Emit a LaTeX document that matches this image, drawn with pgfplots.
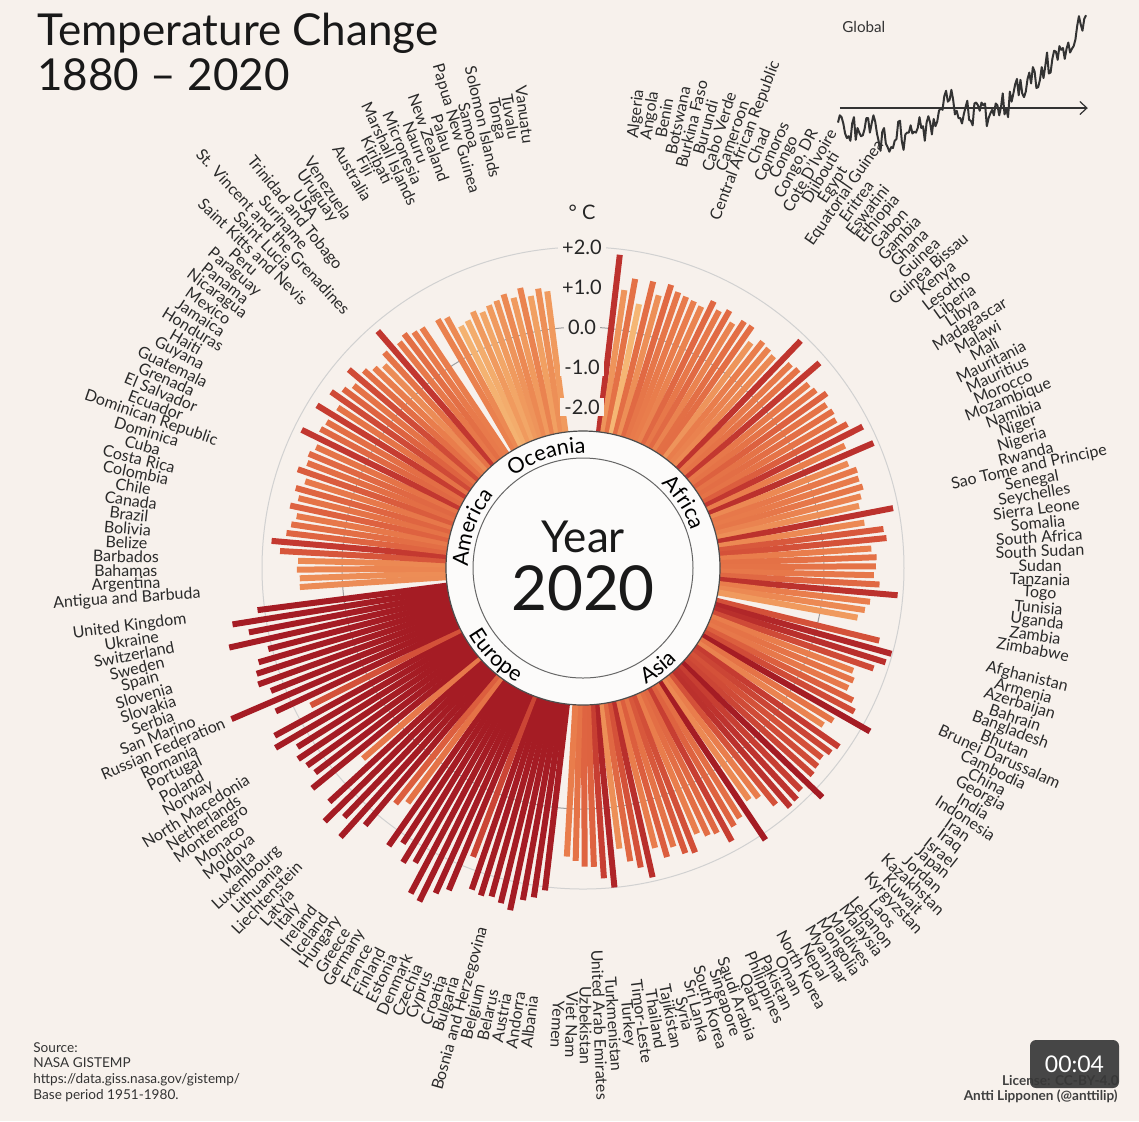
\documentclass[border=0pt]{standalone}
\usepackage{fontspec}
\setmainfont{Lato}
\usepackage{pgfplots}
\pgfplotsset{compat=1.18}
\usepackage{pgfplotstable}
\usepgfplotslibrary{polar}
\usetikzlibrary{decorations.text,arrows.meta}
\definecolor{bg}{RGB}{247,241,236}
\definecolor{labcol}{RGB}{42,42,42}
\definecolor{disk}{RGB}{252,251,250}
\newcommand\labfont{\fontsize{8.0}{8.5}\selectfont}
\newcommand\regfont{\fontsize{10.8}{12}\selectfont}

\pgfplotstableread[col sep=semicolon]{
name;p;t
Algeria;0;1.86
Angola;1;1.00
Benin;2;1.32
Botswana;3;0.72
Burkina Faso;4;1.35
Burundi;5;1.05
Cabo Verde;6;1.39
Cameroon;7;1.27
Central African Republic;8;1.23
Chad;9;1.20
Comoros;10;1.15
Congo;11;1.40
Congo, DR;12;1.25
Cote D'Ivoire;13;1.38
Djibouti;14;1.15
Egypt;15;1.34
Equatorial Guinea;16;1.35
Eritrea;17;1.00
Eswatini;18;1.20
Ethiopia;19;1.16
Gabon;20;1.10
Gambia;21;1.84
Ghana;22;1.25
Guinea;23;1.30
Guinea Bissau;24;1.80
Kenya;25;1.25
Lesotho;26;1.30
Liberia;27;1.47
Libya;28;1.30
Madagascar;29;1.35
Malawi;30;1.30
Mali;31;1.50
Mauritania;32;1.81
Mauritius;33;1.20
Morocco;34;1.88
Mozambique;35;1.10
Namibia;36;1.25
Niger;37;1.22
Nigeria;38;1.26
Rwanda;39;1.15
Sao Tome and Principe;40;1.05
Senegal;41;1.87
Seychelles;42;1.10
Sierra Leone;43;1.55
Somalia;44;1.60
South Africa;45;1.20
South Sudan;46;1.32
Sudan;47;1.30
Tanzania;48;1.25
Togo;49;1.40
Tunisia;50;1.87
Uganda;51;1.20
Zambia;52;1.10
Zimbabwe;53;0.95
Afghanistan;55;1.60
Armenia;56;1.98
Azerbaijan;57;1.90
Bahrain;58;1.66
Bangladesh;59;1.20
Bhutan;60;1.30
Brunei Darussalam;61;1.25
Cambodia;62;1.49
China;63;1.65
Georgia;64;2.23
India;65;1.30
Indonesia;66;1.15
Iran;67;1.78
Iraq;68;1.70
Israel;69;1.60
Japan;70;1.65
Jordan;71;1.70
Kazakhstan;72;2.26
Kuwait;73;1.75
Kyrgyzstan;74;1.85
Laos;75;1.88
Lebanon;76;1.60
Malaysia;77;1.20
Maldives;78;1.10
Mongolia;79;2.16
Myanmar;80;1.35
Nepal;81;1.45
North Korea;82;1.75
Oman;83;1.40
Pakistan;84;1.35
Philippines;85;1.20
Qatar;86;1.62
Saudi Arabia;87;1.55
Singapore;88;1.30
South Korea;89;1.50
Sri Lanka;90;1.20
Syria;91;1.90
Tajikistan;92;1.60
Thailand;93;1.40
Timor-Leste;94;1.05
Turkey;95;2.00
Turkmenistan;96;1.75
United Arab Emirates;97;1.45
Uzbekistan;98;1.44
Viet Nam;99;1.30
Yemen;100;1.20
Albania;102;2.09
Andorra;103;2.30
Austria;104;2.41
Belarus;105;2.72
Belgium;106;2.60
Bosnia and Herzegovina;107;2.50
Bulgaria;108;2.55
Croatia;109;2.48
Cyprus;110;1.70
Czechia;111;2.70
Denmark;112;2.90
Estonia;113;3.26
Finland;114;3.18
France;115;2.45
Germany;116;2.60
Greece;117;2.20
Hungary;118;2.45
Iceland;119;1.30
Ireland;120;1.50
Italy;121;2.40
Latvia;122;3.03
Liechtenstein;123;2.60
Lithuania;124;3.02
Luxembourg;125;2.60
Malta;126;1.25
Moldova;127;2.70
Monaco;128;2.40
Montenegro;129;2.46
Netherlands;130;2.55
North Macedonia;131;2.40
Norway;132;2.88
Poland;133;2.75
Portugal;134;1.60
Romania;135;2.45
Russian Federation;136;3.54
San Marino;137;2.36
Serbia;138;2.60
Slovakia;139;2.55
Slovenia;140;2.42
Spain;141;2.10
Sweden;142;3.04
Switzerland;143;2.48
Ukraine;144;2.85
United Kingdom;145;2.18
Antigua and Barbuda;147;1.07
Argentina;148;1.06
Bahamas;149;1.13
Barbados;150;1.10
Belize;151;1.56
Bolivia;152;1.79
Brazil;153;1.44
Canada;154;1.35
Chile;155;1.25
Colombia;156;1.46
Costa Rica;157;1.30
Cuba;158;1.43
Dominica;159;1.25
Dominican Republic;160;1.52
Ecuador;161;1.35
El Salvador;162;1.40
Grenada;163;1.30
Guatemala;164;1.81
Guyana;165;1.40
Haiti;166;1.35
Honduras;167;1.77
Jamaica;168;1.30
Mexico;169;1.66
Nicaragua;170;1.45
Panama;171;1.30
Paraguay;172;1.65
Peru;173;1.35
Saint Kitts and Nevis;174;1.20
Saint Lucia;175;1.07
St. Vincent and the Grenadines;176;1.30
Suriname;177;1.81
Trinidad and Tobago;178;1.25
USA;179;1.34
Uruguay;180;1.23
Venezuela;181;1.20
Australia;183;1.17
Fiji;184;1.10
Kiribati;185;0.75
Marshall Islands;186;0.80
Micronesia;187;0.95
Nauru;188;0.85
New Zealand;189;0.95
Palau;190;1.00
Papua New Guinea;191;1.10
Samoa;192;0.95
Solomon Islands;193;1.15
Tonga;194;0.90
Tuvalu;195;1.05
Vanuatu;196;0.95
}\countries

\pgfplotstableread{
yr v
1880 -0.16
1881 -0.08
1882 -0.10
1883 -0.17
1884 -0.28
1885 -0.33
1886 -0.31
1887 -0.36
1888 -0.17
1889 -0.10
1890 -0.35
1891 -0.22
1892 -0.27
1893 -0.31
1894 -0.30
1895 -0.23
1896 -0.11
1897 -0.11
1898 -0.27
1899 -0.17
1900 -0.08
1901 -0.15
1902 -0.28
1903 -0.37
1904 -0.47
1905 -0.26
1906 -0.22
1907 -0.39
1908 -0.43
1909 -0.48
1910 -0.43
1911 -0.44
1912 -0.36
1913 -0.34
1914 -0.15
1915 -0.14
1916 -0.36
1917 -0.46
1918 -0.29
1919 -0.27
1920 -0.27
1921 -0.19
1922 -0.28
1923 -0.26
1924 -0.27
1925 -0.22
1926 -0.10
1927 -0.22
1928 -0.20
1929 -0.36
1930 -0.16
1931 -0.09
1932 -0.16
1933 -0.29
1934 -0.12
1935 -0.20
1936 -0.15
1937 -0.03
1938 0.00
1939 -0.02
1940 0.13
1941 0.19
1942 0.07
1943 0.09
1944 0.20
1945 0.09
1946 -0.07
1947 -0.03
1948 -0.11
1949 -0.11
1950 -0.17
1951 -0.07
1952 0.01
1953 0.08
1954 -0.13
1955 -0.14
1956 -0.19
1957 0.05
1958 0.06
1959 0.03
1960 -0.03
1961 0.06
1962 0.03
1963 0.05
1964 -0.20
1965 -0.11
1966 -0.06
1967 -0.02
1968 -0.08
1969 0.05
1970 0.03
1971 -0.08
1972 0.01
1973 0.16
1974 -0.07
1975 -0.01
1976 -0.10
1977 0.18
1978 0.07
1979 0.16
1980 0.26
1981 0.32
1982 0.14
1983 0.31
1984 0.16
1985 0.12
1986 0.18
1987 0.32
1988 0.39
1989 0.27
1990 0.45
1991 0.40
1992 0.22
1993 0.23
1994 0.31
1995 0.45
1996 0.33
1997 0.46
1998 0.61
1999 0.38
2000 0.39
2001 0.54
2002 0.63
2003 0.62
2004 0.53
2005 0.68
2006 0.64
2007 0.66
2008 0.54
2009 0.65
2010 0.72
2011 0.61
2012 0.65
2013 0.68
2014 0.75
2015 0.90
2016 1.01
2017 0.92
2018 0.85
2019 0.98
2020 1.02
}\globaldata

\begin{document}
\begin{tikzpicture}
\fill[bg] (0,0) rectangle (569.5pt,-560.5pt);

\begin{polaraxis}[
  at={(291.5pt,-284pt)}, anchor=center,
  scale only axis, width=340pt, height=340pt,
  xmin=0, xmax=360, ymin=0, ymax=8.5,
  xtick=\empty, ytick={6.025}, minor ytick={8.025},
  yticklabels={},
  ymajorgrids, yminorgrids,
  major grid style={draw=black!38, line width=0.5pt},
  minor grid style={draw=black!18, line width=0.5pt},
  axis line style={draw=none},
  tick style={draw=none},
  clip=false,
  colormap={temp}{rgb255=(251,224,155) rgb255=(247,196,128) rgb255=(241,160,98) rgb255=(233,125,76) rgb255=(220,94,62) rgb255=(195,56,48) rgb255=(165,28,36)},
  point meta min=0.3, point meta max=2.1,
]
\coordinate (C) at (axis cs:0,0);
\pgfplotsforeachungrouped \i in {0,...,192}{%
  \pgfplotstablegetelem{\i}{p}\of\countries \let\pp\pgfplotsretval
  \pgfplotstablegetelem{\i}{t}\of\countries \let\tv\pgfplotsretval
  \pgfplotstablegetelem{\i}{name}\of\countries \let\nm\pgfplotsretval
  \pgfmathsetmacro\thA{6.7+1.765*\pp}%
  \pgfmathsetmacro\ph{mod(450-\thA,360)}%
  \pgfmathsetmacro\rr{6.025+\tv}%
  \pgfmathsetmacro\rot{\pp<101 ? 90-\thA : 270-\thA}%
  \edef\doit{\noexpand\addplot[mesh, line width=3pt, point meta=explicit, forget plot] coordinates {(\ph,3.3) [\tv] (\ph,\rr) [\tv]};
    \noexpand\node[rotate=\rot, font=\noexpand\labfont, text=labcol, inner sep=0pt] at (axis cs:\ph,11.43) {\nm};}%
  \doit
}
\end{polaraxis}

\begin{axis}[
  at={(419pt,-76.75pt)}, anchor=south west,
  scale only axis, width=124pt, height=70.5pt,
  xmin=1880, xmax=2020, ymin=-0.5, ymax=1.05,
  hide axis, clip=false,
]
\addplot[black!80, line width=1pt, line join=round] table[x=yr, y=v] {\globaldata};
\draw[black!80, line width=0.6pt, -{Straight Barb[length=3.5pt,width=6.5pt]}] (axis cs:1881,0) -- (axis cs:2021,0);
\end{axis}

% centre disk
\fill[disk] (C) circle[radius=68.5pt];
\draw[black!70, line width=0.6pt] (C) circle[radius=68.5pt];
\draw[black!60, line width=0.5pt] (C) circle[radius=55pt];
\path[decorate, decoration={text along path, text={|\regfont|Oceania}, text align=center}] ([shift={(138:57.5pt)}]C) arc[start angle=138, end angle=78, radius=57.5pt];
\path[decorate, decoration={text along path, text={|\regfont|Africa}, text align=center}] ([shift={(63:57.5pt)}]C) arc[start angle=63, end angle=3, radius=57.5pt];
\path[decorate, decoration={text along path, text={|\regfont|America}, text align=center}] ([shift={(190:57.5pt)}]C) arc[start angle=190, end angle=130, radius=57.5pt];
\path[decorate, decoration={text along path, text={|\regfont|Europe}, text align=center}] ([shift={(195:66pt)}]C) arc[start angle=195, end angle=255, radius=66pt];
\path[decorate, decoration={text along path, text={|\regfont|Asia}, text align=center}] ([shift={(280:66pt)}]C) arc[start angle=280, end angle=334, radius=66pt];
\node[anchor=base, font=\fontsize{22}{24}\selectfont, text=black!90] at ([yshift=8pt]C) {Year};
\node[anchor=base, font=\fontsize{31}{34}\selectfont, text=black!90] at ([yshift=-21pt]C) {2020};

\begin{scope}[x=0.5pt,y=-0.5pt]
  \foreach \yy/\tx in {247/+2.0, 287/+1.0, 327/0.0, 367/-1.0, 407/-2.0}{
    \node[fill=bg, inner xsep=2pt, inner ysep=1pt, font=\fontsize{10}{12}\selectfont, text=black!85] at (582,\yy) {\tx};
  }
  \node[font=\fontsize{10}{12}\selectfont, text=black!85] at (582,212) {° C};
  \node[anchor=base west, inner sep=0pt, font=\fontsize{22}{24}\selectfont, text=black!90] at (37,45) {Temperature Change};
  \node[anchor=base west, inner sep=0pt, font=\fontsize{22}{24}\selectfont, text=black!90] at (37,90) {1880 – 2020};
  \node[anchor=base west, inner sep=0pt, font=\fontsize{7.6}{9}\selectfont, text=black!80] at (842,32) {Global};
  \node[anchor=base west, font=\fontsize{6.8}{8}\selectfont, text=black!80, inner sep=0pt] at (33,1052) {Source:};
  \node[anchor=base west, font=\fontsize{6.8}{8}\selectfont, text=black!80, inner sep=0pt] at (33,1067) {NASA GISTEMP};
  \node[anchor=base west, font=\fontsize{6.8}{8}\selectfont, text=black!80, inner sep=0pt] at (33,1083) {https://data.giss.nasa.gov/gistemp/};
  \node[anchor=base west, font=\fontsize{6.8}{8}\selectfont, text=black!80, inner sep=0pt] at (33,1099) {Base period 1951-1980.};
  \node[anchor=base east, font=\bfseries\fontsize{6.8}{8}\selectfont, text=black!75, inner sep=0pt] at (1119,1085) {License: CC-BY-4.0};
  \node[anchor=base east, font=\bfseries\fontsize{6.8}{8}\selectfont, text=black!75, inner sep=0pt] at (1118,1100) {Antti Lipponen (@anttilip)};
  \fill[black!78, opacity=0.92, rounded corners=3pt] (1030,1040) rectangle (1119,1088);
  \node[text=white, font=\fontsize{11.5}{13}\selectfont] at (1074.5,1064) {00:04};
  \pgfresetboundingbox
  \useasboundingbox (0,0) rectangle (1139,1121);
\end{scope}
\end{tikzpicture}
\end{document}
